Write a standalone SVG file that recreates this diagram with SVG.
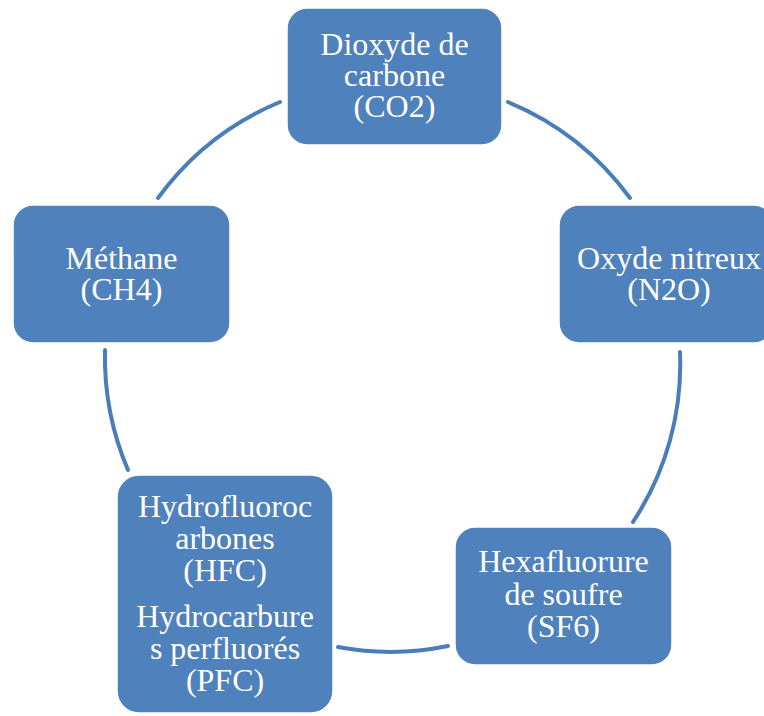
<svg xmlns="http://www.w3.org/2000/svg" width="764" height="716" viewBox="0 0 764 716">
<style>
.box{fill:#4F81BD;stroke:#FFFFFF;stroke-width:1.5}
.t{font-family:"Liberation Serif","Times New Roman",serif;font-size:32px;fill:#FFFFFF;text-anchor:middle}
.arc{fill:none;stroke:#4A7EBB;stroke-width:4;stroke-linecap:round}
</style>
<rect width="764" height="716" fill="#FFFFFF"/>
<g id="connectors">
<path class="arc" d="M508 102 A287 287 0 0 1 630 198"/>
<path class="arc" d="M680 352 A287 287 0 0 1 633 522"/>
<path class="arc" d="M448 646 A287 287 0 0 1 338 647"/>
<path class="arc" d="M128 470 A287 287 0 0 1 105 350"/>
<path class="arc" d="M158 198 A287 287 0 0 1 280 102"/>
</g>
<g id="co2">
<rect class="box" x="287" y="8" width="215" height="137" rx="20"/>
<text class="t" x="394.5" y="55">Dioxyde de</text>
<text class="t" x="394.5" y="86">carbone</text>
<text class="t" x="394.5" y="117">(CO2)</text>
</g>
<g id="n2o">
<rect class="box" x="559" y="205" width="215" height="138" rx="20"/>
<text class="t" x="669" y="269">Oxyde nitreux</text>
<text class="t" x="669" y="300">(N2O)</text>
</g>
<g id="sf6">
<rect class="box" x="455" y="527" width="217" height="138" rx="20"/>
<text class="t" x="563.5" y="572">Hexafluorure</text>
<text class="t" x="563.5" y="605">de soufre</text>
<text class="t" x="563.5" y="637">(SF6)</text>
</g>
<g id="hfc-pfc">
<rect class="box" x="117" y="475" width="216" height="238" rx="22"/>
<text class="t" x="225" y="517">Hydrofluoroc</text>
<text class="t" x="225" y="549">arbones</text>
<text class="t" x="225" y="581">(HFC)</text>
<text class="t" x="225" y="627">Hydrocarbure</text>
<text class="t" x="225" y="659">s perfluorés</text>
<text class="t" x="225" y="691">(PFC)</text>
</g>
<g id="ch4">
<rect class="box" x="13" y="205" width="217" height="138" rx="20"/>
<text class="t" x="121.5" y="269">Méthane</text>
<text class="t" x="121.5" y="300">(CH4)</text>
</g>
</svg>
